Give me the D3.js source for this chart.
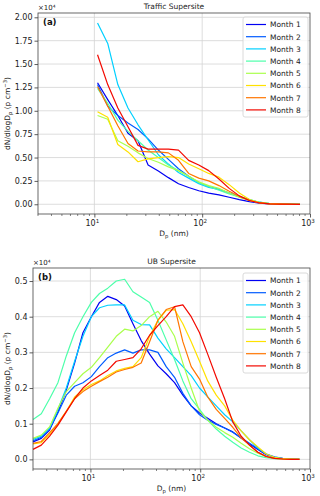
<!DOCTYPE html>
<html>
<head>
<meta charset="utf-8">
<script src="https://cdn.jsdelivr.net/npm/d3@7"></script>
<style>
  body { margin: 0; background: #fff; }
  svg { display: block; font-family: 'DejaVu Sans', sans-serif; }
</style>
</head>
<body>
<div id="chart"></div>
<script>
// particle diameters (nm) for each site
const trafficDp = [10.7, 13.3, 16.5, 20.5, 25.4, 31.5, 39.2, 48.6, 60.3, 74.9, 93.0, 115, 143, 178, 221, 274, 340, 422, 524, 651, 808];
const ubDp = [3.00, 3.57, 4.25, 5.06, 6.03, 7.18, 8.55, 10.2, 12.1, 14.4, 17.2, 20.5, 24.4, 29.0, 34.6, 41.2,
  49.0, 58.4, 69.5, 82.8, 98.6, 117, 140, 167, 198, 236, 281, 335, 399, 475, 566, 674, 802];

const months = ['Month 1', 'Month 2', 'Month 3', 'Month 4', 'Month 5', 'Month 6', 'Month 7', 'Month 8'];
const colors = ['#0000f3', '#005bff', '#00d0ff', '#4cffaa', '#aaff4c', '#ffe100', '#ff7500', '#f30900'];

// dN/dlogDp, in units of 1e4 p cm-3
const traffic1 = [1.30, 1.12, 0.95, 0.76, 0.68, 0.42, 0.355, 0.285, 0.22, 0.18, 0.145, 0.12, 0.10, 0.075, 0.05, 0.028, 0.012, 0.005, 0.002, 0.0005, 0];
const traffic2 = [1.28, 1.05, 0.95, 0.87, 0.80, 0.70, 0.58, 0.48, 0.38, 0.30, 0.23, 0.19, 0.16, 0.12, 0.08, 0.045, 0.018, 0.007, 0.002, 0.001, 0];
const traffic3 = [1.94, 1.72, 1.28, 1.03, 0.85, 0.69, 0.53, 0.43, 0.34, 0.28, 0.22, 0.18, 0.16, 0.12, 0.085, 0.05, 0.022, 0.008, 0.003, 0.001, 0];
const traffic4 = [1.24, 1.08, 0.90, 0.78, 0.68, 0.58, 0.50, 0.42, 0.36, 0.30, 0.23, 0.19, 0.15, 0.11, 0.08, 0.05, 0.022, 0.008, 0.003, 0.001, 0];
const traffic5 = [0.95, 0.91, 0.68, 0.62, 0.55, 0.49, 0.45, 0.40, 0.36, 0.30, 0.24, 0.20, 0.17, 0.12, 0.075, 0.04, 0.016, 0.006, 0.002, 0.001, 0];
const traffic6 = [0.99, 0.93, 0.64, 0.56, 0.455, 0.485, 0.50, 0.51, 0.50, 0.43, 0.38, 0.33, 0.29, 0.21, 0.12, 0.05, 0.018, 0.006, 0.002, 0, 0];
const traffic7 = [1.26, 1.05, 0.84, 0.65, 0.57, 0.56, 0.56, 0.55, 0.47, 0.33, 0.28, 0.25, 0.20, 0.14, 0.085, 0.04, 0.015, 0.005, 0.002, 0, 0];
const traffic8 = [1.60, 1.28, 1.03, 0.83, 0.63, 0.59, 0.59, 0.59, 0.58, 0.47, 0.42, 0.36, 0.27, 0.17, 0.09, 0.04, 0.014, 0.005, 0.002, 0.001, 0];

const ub1 = [0.049, 0.059, 0.082, 0.133, 0.194, 0.27, 0.355, 0.40, 0.44, 0.457, 0.448, 0.43, 0.38, 0.333, 0.295, 0.262,
  0.24, 0.215, 0.18, 0.15, 0.13, 0.115, 0.10, 0.088, 0.077, 0.06, 0.043, 0.028, 0.013, 0.006, 0.002, 0.001, 0];
const ub2 = [0.052, 0.062, 0.086, 0.13, 0.18, 0.205, 0.215, 0.232, 0.26, 0.285, 0.298, 0.307, 0.298, 0.307, 0.307, 0.30,
  0.26, 0.23, 0.185, 0.15, 0.125, 0.11, 0.098, 0.088, 0.076, 0.06, 0.045, 0.03, 0.015, 0.007, 0.003, 0.001, 0];
const ub3 = [0.056, 0.065, 0.088, 0.14, 0.20, 0.275, 0.345, 0.40, 0.425, 0.432, 0.433, 0.433, 0.39, 0.378, 0.377, 0.34,
  0.31, 0.285, 0.26, 0.235, 0.20, 0.175, 0.15, 0.125, 0.105, 0.08, 0.055, 0.032, 0.015, 0.006, 0.002, 0.001, 0];
const ub4 = [0.112, 0.128, 0.17, 0.215, 0.29, 0.355, 0.40, 0.44, 0.465, 0.48, 0.50, 0.505, 0.47, 0.455, 0.44, 0.39,
  0.335, 0.28, 0.22, 0.17, 0.14, 0.11, 0.085, 0.065, 0.048, 0.032, 0.02, 0.01, 0.005, 0.002, 0.001, 0, 0];
const ub5 = [0.059, 0.068, 0.091, 0.143, 0.19, 0.215, 0.24, 0.258, 0.285, 0.315, 0.345, 0.365, 0.36, 0.375, 0.40, 0.415,
  0.385, 0.345, 0.27, 0.20, 0.135, 0.11, 0.09, 0.075, 0.062, 0.045, 0.03, 0.017, 0.008, 0.003, 0.001, 0, 0];
const ub6 = [0.043, 0.047, 0.07, 0.10, 0.135, 0.175, 0.195, 0.21, 0.22, 0.235, 0.248, 0.255, 0.26, 0.285, 0.345, 0.39,
  0.418, 0.42, 0.38, 0.33, 0.275, 0.22, 0.18, 0.15, 0.11, 0.08, 0.055, 0.035, 0.015, 0.006, 0.002, 0.001, 0];
const ub7 = [0.045, 0.05, 0.075, 0.10, 0.135, 0.17, 0.19, 0.205, 0.218, 0.23, 0.245, 0.252, 0.258, 0.27, 0.33, 0.39,
  0.42, 0.428, 0.33, 0.26, 0.225, 0.175, 0.14, 0.115, 0.09, 0.06, 0.04, 0.02, 0.008, 0.003, 0.001, 0, 0];
const ub8 = [0.028, 0.04, 0.065, 0.096, 0.133, 0.17, 0.20, 0.22, 0.235, 0.25, 0.275, 0.28, 0.285, 0.31, 0.348, 0.375,
  0.40, 0.428, 0.433, 0.40, 0.355, 0.295, 0.23, 0.17, 0.105, 0.065, 0.04, 0.02, 0.008, 0.003, 0.001, 0, 0];

const trafficSeries = [traffic1, traffic2, traffic3, traffic4, traffic5, traffic6, traffic7, traffic8];
const ubSeries = [ub1, ub2, ub3, ub4, ub5, ub6, ub7, ub8];

const trafficYTicks = [0, 0.25, 0.5, 0.75, 1.0, 1.25, 1.5, 1.75, 2.0];
const ubYTicks = [0, 0.1, 0.2, 0.3, 0.4, 0.5];
const xMajor = [10, 100, 1000];

const svg = d3.select('#chart').append('svg')
  .attr('width', 320)
  .attr('height', 496);

function drawPanel(opt) {
  const x = d3.scaleLog().domain([3, 1000]).range([opt.left, opt.right]);
  const y = d3.scaleLinear().domain(opt.yDomain).range([opt.bottom, opt.top]);
  const g = svg.append('g');

  // grid
  g.selectAll('.vgrid').data(xMajor.slice(0, 2)).enter().append('line')
    .attr('x1', d => x(d)).attr('x2', d => x(d))
    .attr('y1', opt.top).attr('y2', opt.bottom)
    .attr('stroke', '#d4d4d4').attr('stroke-width', 0.8);
  g.selectAll('.hgrid').data(opt.yTicks).enter().append('line')
    .attr('x1', opt.left).attr('x2', opt.right)
    .attr('y1', d => y(d)).attr('y2', d => y(d))
    .attr('stroke', '#d4d4d4').attr('stroke-width', 0.8);

  // curves
  const line = d3.line()
    .x((d, i) => x(opt.dp[i]))
    .y(d => y(d));
  opt.series.forEach(function (s, k) {
    g.append('path')
      .datum(s)
      .attr('fill', 'none')
      .attr('stroke', colors[k])
      .attr('stroke-width', 1.2)
      .attr('stroke-linejoin', 'round')
      .attr('d', line);
  });

  // x axis
  const xAxis = d3.axisBottom(x)
    .tickValues(xMajor)
    .tickSize(3.5)
    .tickFormat('');
  const gx = g.append('g')
    .attr('transform', 'translate(0,' + opt.bottom + ')')
    .call(xAxis);
  gx.select('.domain').remove();
  gx.selectAll('line').attr('stroke', '#333').attr('stroke-width', 0.8);

  const minor = [];
  [1, 10, 100].forEach(function (dec) {
    for (let m = 2; m <= 9; m++) {
      const v = m * dec;
      if (v >= 3 && v < 1000) minor.push(v);
    }
  });
  g.selectAll('.minor').data(minor).enter().append('line')
    .attr('x1', d => x(d)).attr('x2', d => x(d))
    .attr('y1', opt.bottom).attr('y2', opt.bottom + 2)
    .attr('stroke', '#333').attr('stroke-width', 0.6);

  xMajor.forEach(function (v, i) {
    const t = g.append('text')
      .attr('x', x(v) - 2)
      .attr('y', opt.bottom + 12)
      .attr('text-anchor', 'middle')
      .attr('font-size', 8)
      .attr('fill', '#222');
    t.append('tspan').text('10');
    t.append('tspan').attr('dy', -3.5).attr('font-size', 5.6).text(i + 1);
  });

  // y axis
  const yAxis = d3.axisLeft(y)
    .tickValues(opt.yTicks)
    .tickSize(3.5)
    .tickPadding(2)
    .tickFormat(d3.format(opt.yFormat));
  const gy = g.append('g')
    .attr('transform', 'translate(' + opt.left + ',0)')
    .call(yAxis);
  gy.select('.domain').remove();
  gy.selectAll('line').attr('stroke', '#333').attr('stroke-width', 0.8);
  gy.selectAll('text')
    .attr('font-size', 8)
    .attr('font-family', 'DejaVu Sans')
    .attr('fill', '#222');

  // frame
  g.append('rect')
    .attr('x', opt.left).attr('y', opt.top)
    .attr('width', opt.right - opt.left).attr('height', opt.bottom - opt.top)
    .attr('fill', 'none')
    .attr('stroke', '#444')
    .attr('stroke-width', 0.8);

  // labels
  g.append('text')
    .attr('x', (opt.left + opt.right) / 2)
    .attr('y', opt.top - 4)
    .attr('text-anchor', 'middle')
    .attr('font-size', 7.5)
    .attr('fill', '#222')
    .text(opt.title);

  g.append('text')
    .attr('x', opt.left)
    .attr('y', opt.top - 3)
    .attr('font-size', 7)
    .attr('fill', '#222')
    .text('\u00d710\u2074');

  g.append('text')
    .attr('x', opt.left + 5)
    .attr('y', opt.top + 12)
    .attr('font-size', 8.5)
    .attr('font-weight', 'bold')
    .attr('fill', '#111')
    .text(opt.tag);

  const xl = g.append('text')
    .attr('x', (opt.left + opt.right) / 2)
    .attr('y', opt.bottom + 22)
    .attr('text-anchor', 'middle')
    .attr('font-size', 7.5)
    .attr('fill', '#222');
  xl.append('tspan').text('D');
  xl.append('tspan').attr('dy', 2).attr('font-size', 5.3).text('p');
  xl.append('tspan').attr('dy', -2).text(' (nm)');

  const yl = g.append('text')
    .attr('transform', 'translate(10,' + ((opt.top + opt.bottom) / 2) + ') rotate(-90)')
    .attr('text-anchor', 'middle')
    .attr('font-size', 7.5)
    .attr('fill', '#222');
  yl.append('tspan').text('dN/dlogD');
  yl.append('tspan').attr('dy', 2).attr('font-size', 5.3).text('p');
  yl.append('tspan').attr('dy', -2).text(' (p cm');
  yl.append('tspan').attr('dy', -3).attr('font-size', 5.3).text('\u22123');
  yl.append('tspan').attr('dy', 3).text(')');

  // legend
  const lg = g.append('g').attr('transform', 'translate(243,' + opt.legendTop + ')');
  lg.append('rect')
    .attr('width', 65).attr('height', 100)
    .attr('rx', 2)
    .attr('fill', 'white').attr('fill-opacity', 0.8)
    .attr('stroke', '#d0d0d0').attr('stroke-width', 0.8);
  months.forEach(function (m, k) {
    const yy = 7.5 + k * 12.2;
    lg.append('line')
      .attr('x1', 3).attr('x2', 23)
      .attr('y1', yy).attr('y2', yy)
      .attr('stroke', colors[k]).attr('stroke-width', 1.2);
    lg.append('text')
      .attr('x', 27).attr('y', yy + 2.8)
      .attr('font-size', 7.5)
      .attr('fill', '#222')
      .text(m);
  });
}

drawPanel({
  left: 38, right: 310, top: 13, bottom: 214,
  yDomain: [-0.104, 2.046],
  yTicks: trafficYTicks, yFormat: '.2f',
  dp: trafficDp, series: trafficSeries,
  title: 'Traffic Supersite', tag: '(a)', legendTop: 17
});

drawPanel({
  left: 33, right: 310, top: 268, bottom: 469,
  yDomain: [-0.027, 0.5365],
  yTicks: ubYTicks, yFormat: '.1f',
  dp: ubDp, series: ubSeries,
  title: 'UB Supersite', tag: '(b)', legendTop: 273
});
</script>
</body>
</html>
